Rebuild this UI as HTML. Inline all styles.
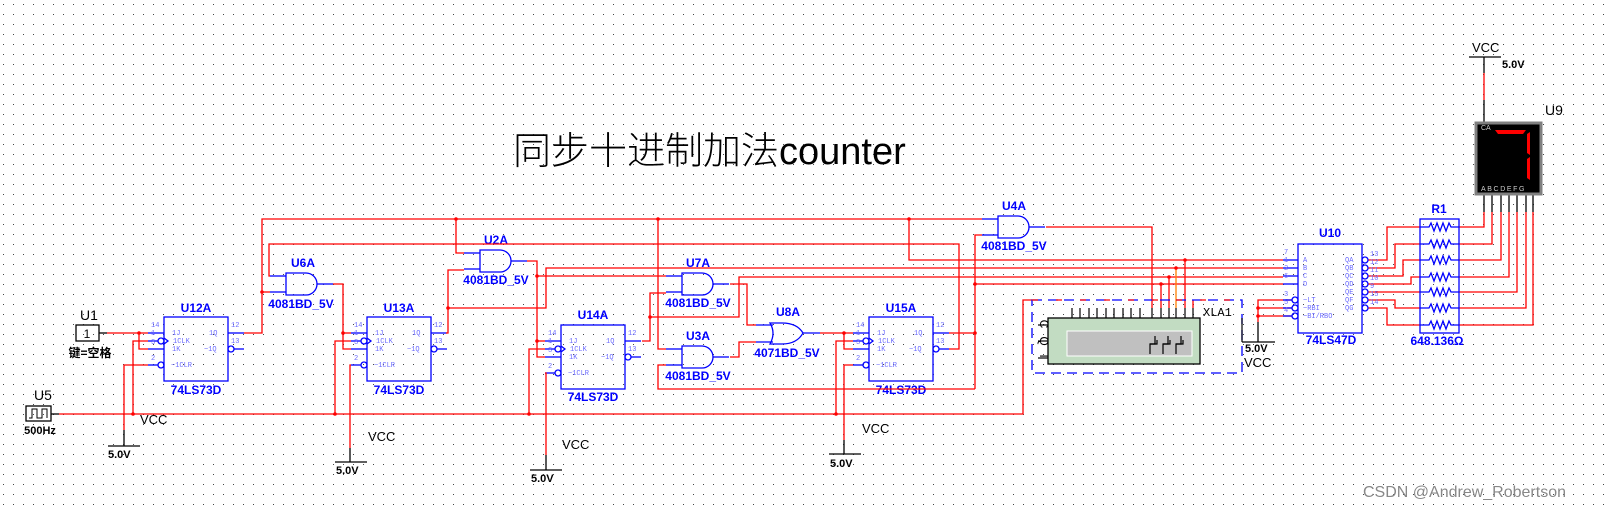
<!DOCTYPE html>
<html><head><meta charset="utf-8"><style>
html,body{margin:0;padding:0;background:#fff;}
svg{display:block;}
.w{stroke:#ff0000;stroke-width:1.3;fill:none;}
.b{stroke:#0000ff;stroke-width:1.3;fill:none;}
.k{stroke:#000;stroke-width:1.3;fill:none;}
.lb{font-family:"Liberation Sans",sans-serif;font-weight:bold;font-size:12px;fill:#0000ff;}
.pn{font-family:"Liberation Mono",monospace;font-size:7px;fill:#6a6aff;}
.tk{font-family:"Liberation Sans",sans-serif;font-size:13px;fill:#000;}
.tv{font-family:"Liberation Sans",sans-serif;font-weight:bold;font-size:11px;fill:#000;}
.j{fill:#ff0000;}
</style></head><body>
<svg width="1611" height="509" viewBox="0 0 1611 509" xmlns="http://www.w3.org/2000/svg">
<defs>
<pattern id="g" x="0" y="0" width="10" height="10" patternUnits="userSpaceOnUse"><rect x="3" y="4" width="1" height="1" fill="#444"/></pattern>
<g id="ff">
<rect x="0" y="0" width="64" height="64" class="b"/>
<line x1="-16" y1="16" x2="0" y2="16" class="b"/>
<line x1="-16" y1="24" x2="-6" y2="24" class="b"/><circle cx="-3" cy="24" r="3" class="b"/>
<polyline points="0,21 4,24 0,27" class="b"/>
<line x1="-16" y1="32" x2="0" y2="32" class="b"/>
<line x1="-16" y1="48" x2="-6" y2="48" class="b"/><circle cx="-3" cy="48" r="3" class="b"/>
<line x1="64" y1="16" x2="80" y2="16" class="b"/>
<circle cx="67" cy="32" r="3" class="b"/><line x1="70" y1="32" x2="80" y2="32" class="b"/>
<text class="pn" x="-13" y="10">14</text><text class="pn" x="-13" y="18">1</text><text class="pn" x="-13" y="27">3</text><text class="pn" x="-13" y="43">2</text>
<text class="pn" x="67" y="10">12</text><text class="pn" x="67" y="26">13</text>
<text class="pn" x="8" y="18">1J</text><text class="pn" x="9" y="26">1CLK</text><text class="pn" x="8" y="34">1K</text><text class="pn" x="7" y="50">~1CLR</text>
<text class="pn" x="45" y="18">1Q</text><text class="pn" x="40" y="34">~1Q</text>
</g>
<g id="and">
<path d="M0,0 H20 A11,11 0 0 1 20,22 H0 Z" class="b"/>
<line x1="-16" y1="3" x2="0" y2="3" class="b"/>
<line x1="-16" y1="19" x2="0" y2="19" class="b"/>
<line x1="31" y1="11" x2="47" y2="11" class="b"/>
</g>
<g id="zz"><polyline points="0,0 9,0 11,-4 14,4 17,-4 20,4 23,-4 26,4 29,-4 31,0 39,0" class="b"/></g>
</defs>
<rect width="1611" height="509" fill="url(#g)"/>

<!-- title -->
<text x="513" y="164" style="font-family:'Liberation Sans','Noto Sans CJK SC',sans-serif;font-size:38px;font-weight:300;fill:#000;">同步十进制加法counter</text>
<text x="1363" y="497" style="font-family:'Liberation Sans','Noto Sans CJK SC',sans-serif;font-size:16px;fill:#888;">CSDN @Andrew_Robertson</text>

<!-- flip flops -->
<use href="#ff" x="164" y="317"/>
<use href="#ff" x="367" y="317"/>
<use href="#ff" x="561" y="325"/>
<use href="#ff" x="869" y="317"/>
<text class="lb" x="196" y="312" text-anchor="middle">U12A</text><text class="lb" x="196" y="394" text-anchor="middle">74LS73D</text>
<text class="lb" x="399" y="312" text-anchor="middle">U13A</text><text class="lb" x="399" y="394" text-anchor="middle">74LS73D</text>
<text class="lb" x="593" y="319" text-anchor="middle">U14A</text><text class="lb" x="593" y="401" text-anchor="middle">74LS73D</text>
<text class="lb" x="901" y="312" text-anchor="middle">U15A</text><text class="lb" x="901" y="394" text-anchor="middle">74LS73D</text>

<!-- gates -->
<use href="#and" x="286" y="273"/>
<text class="lb" x="303" y="267" text-anchor="middle">U6A</text><text class="lb" x="301" y="308" text-anchor="middle">4081BD_5V</text>
<use href="#and" x="480" y="250"/>
<text class="lb" x="496" y="244" text-anchor="middle">U2A</text><text class="lb" x="496" y="284" text-anchor="middle">4081BD_5V</text>
<use href="#and" x="682" y="273"/>
<text class="lb" x="698" y="267" text-anchor="middle">U7A</text><text class="lb" x="698" y="307" text-anchor="middle">4081BD_5V</text>
<use href="#and" x="682" y="346"/>
<text class="lb" x="698" y="340" text-anchor="middle">U3A</text><text class="lb" x="698" y="380" text-anchor="middle">4081BD_5V</text>
<use href="#and" x="998" y="216"/>
<text class="lb" x="1014" y="210" text-anchor="middle">U4A</text><text class="lb" x="1014" y="250" text-anchor="middle">4081BD_5V</text>
<!-- OR -->
<path d="M770,323 H782 Q797,323 803,333 Q797,344 782,344 H770 Q776,333 770,323 Z" class="b"/>
<line x1="756" y1="325" x2="773" y2="325" class="b"/><line x1="756" y1="342" x2="773" y2="342" class="b"/>
<line x1="803" y1="333" x2="820" y2="333" class="b"/>
<text class="lb" x="788" y="316" text-anchor="middle">U8A</text><text class="lb" x="787" y="357" text-anchor="middle">4071BD_5V</text>

<!-- U1 -->
<rect x="76" y="325" width="23" height="16" class="k"/>
<text x="87" y="338" class="tk" text-anchor="middle" style="font-size:12px">1</text>
<text x="89" y="320" class="tk" text-anchor="middle" style="font-size:14px">U1</text>
<text x="90" y="357" style="font-family:'Liberation Sans','Noto Sans CJK SC',sans-serif;font-size:12px;font-weight:bold" text-anchor="middle">键=空格</text>
<line x1="99" y1="333" x2="107" y2="333" class="k"/>
<!-- U5 -->
<rect x="26" y="406" width="25" height="15" class="k"/>
<polyline points="29,418 32,418 32,409 37,409 37,418 42,418 42,409 47,409 47,418" class="k" style="stroke-width:1"/>
<text x="43" y="400" class="tk" text-anchor="middle" style="font-size:14px">U5</text>
<text x="40" y="434" class="tv" text-anchor="middle">500Hz</text>
<line x1="51" y1="414" x2="59" y2="414" class="k"/>

<!-- wires -->
<g class="w">
<polyline points="107,333 148,333"/><polyline points="139,333 139,349 148,349"/>
<polyline points="148,341 133,341 133,414"/>
<polyline points="148,365 124,365 124,430"/>
<polyline points="244,333 262,333 262,219 982,219"/>
<polyline points="262,292 270,292"/>
<polyline points="270,276 269,276 269,244 959,244 959,349 949,349"/>
<polyline points="333,284 343,284 343,349 351,349"/><polyline points="343,333 351,333"/>
<polyline points="351,341 335,341 335,414"/>
<polyline points="351,365 350,365 350,448"/>
<polyline points="446,333 448,333 448,270 464,270"/>
<polyline points="448,308 546,308 546,268 1283,268"/>
<polyline points="456,219 456,253 464,253"/>
<polyline points="527,261 537,261 537,357 545,357"/><polyline points="537,341 545,341"/>
<polyline points="537,276 666,276"/>
<polyline points="545,349 529,349 529,414"/>
<polyline points="545,373 546,373 546,455"/>
<polyline points="642,341 650,341 650,293 666,293"/>
<polyline points="650,317 739,317 739,277 1283,277"/>
<polyline points="658,219 658,349 666,349"/>
<polyline points="666,365 658,365 658,389 975,389"/>
<polyline points="730,284 747,284 747,325 756,325"/>
<polyline points="730,357 739,357 739,342 756,342"/>
<polyline points="820,333 853,333"/><polyline points="844,333 844,349 853,349"/>
<polyline points="853,341 836,341 836,414"/>
<polyline points="853,365 844,365 844,440"/>
<polyline points="949,333 975,333"/><polyline points="982,235 975,235 975,389"/>
<polyline points="975,284 1283,284"/>
<polyline points="909,219 909,260 1283,260"/>
<polyline points="59,414 1023,414 1023,300 1032,300"/>
<polyline points="1046,227 1152,227 1152,308"/>
<polyline points="1161,284 1161,308"/><polyline points="1169,277 1169,308"/><polyline points="1185,260 1185,308"/>
<polyline points="1193,300 1193,308"/>
<polyline points="1292,300 1258,300 1258,322"/><polyline points="1258,308 1292,308"/><polyline points="1258,316 1292,316"/>
<polyline points="1368,260 1387,260 1387,227 1420,227"/>
<polyline points="1368,268 1395,268 1395,244 1420,244"/>
<polyline points="1368,276 1403,276 1403,260 1420,260"/>
<polyline points="1368,284 1411,284 1411,277 1420,277"/>
<polyline points="1368,292 1420,292"/>
<polyline points="1368,300 1395,300 1395,308 1420,308"/>
<polyline points="1368,308 1387,308 1387,325 1420,325"/>
<polyline points="1459,227 1484,227 1484,212"/>
<polyline points="1459,244 1492,244 1492,212"/>
<polyline points="1459,260 1501,260 1501,212"/>
<polyline points="1459,277 1509,277 1509,212"/>
<polyline points="1459,292 1517,292 1517,212"/>
<polyline points="1459,308 1526,308 1526,212"/>
<polyline points="1459,325 1533,325 1533,212"/>
<polyline points="1484,73 1484,100"/>
</g>
<line x1="1176" y1="268" x2="1176" y2="308" style="stroke:#ff8000;stroke-width:1.3"/>
<g class="j">
<circle cx="139" cy="333" r="1.8"/><circle cx="133" cy="414" r="1.8"/><circle cx="262" cy="292" r="1.8"/>
<circle cx="343" cy="333" r="1.8"/><circle cx="335" cy="414" r="1.8"/><circle cx="448" cy="308" r="1.8"/>
<circle cx="456" cy="219" r="1.8"/><circle cx="537" cy="276" r="1.8"/><circle cx="537" cy="341" r="1.8"/>
<circle cx="529" cy="414" r="1.8"/><circle cx="650" cy="317" r="1.8"/><circle cx="658" cy="219" r="1.8"/>
<circle cx="844" cy="333" r="1.8"/><circle cx="836" cy="414" r="1.8"/><circle cx="975" cy="333" r="1.8"/>
<circle cx="975" cy="284" r="1.8"/><circle cx="909" cy="219" r="1.8"/><circle cx="1161" cy="284" r="1.8"/>
<circle cx="1169" cy="277" r="1.8"/><circle cx="1176" cy="268" r="1.8"/><circle cx="1185" cy="260" r="1.8"/>
<circle cx="1258" cy="308" r="1.8"/><circle cx="1258" cy="316" r="1.8"/>
</g>

<!-- grounds / VCC -->
<g class="k">
<line x1="124" y1="430" x2="124" y2="446"/><line x1="108" y1="446" x2="140" y2="446"/>
<line x1="350" y1="448" x2="350" y2="462"/><line x1="335" y1="462" x2="367" y2="462"/>
<line x1="546" y1="455" x2="546" y2="470"/><line x1="530" y1="470" x2="562" y2="470"/>
<line x1="844" y1="440" x2="844" y2="454"/><line x1="829" y1="454" x2="861" y2="454"/>
<line x1="1258" y1="322" x2="1258" y2="342"/><line x1="1242" y1="342" x2="1275" y2="342"/>
<line x1="1484" y1="57" x2="1484" y2="73"/><line x1="1469" y1="57" x2="1501" y2="57"/>
<line x1="1484" y1="100" x2="1484" y2="122"/>
<line x1="1484" y1="195" x2="1484" y2="212"/><line x1="1492" y1="195" x2="1492" y2="212"/><line x1="1501" y1="195" x2="1501" y2="212"/><line x1="1509" y1="195" x2="1509" y2="212"/><line x1="1517" y1="195" x2="1517" y2="212"/><line x1="1526" y1="195" x2="1526" y2="212"/><line x1="1533" y1="195" x2="1533" y2="212"/>
</g>
<text class="tk" x="140" y="424">VCC</text><text class="tv" x="108" y="458">5.0V</text>
<text class="tk" x="368" y="441">VCC</text><text class="tv" x="336" y="474">5.0V</text>
<text class="tk" x="562" y="449">VCC</text><text class="tv" x="531" y="482">5.0V</text>
<text class="tk" x="862" y="433">VCC</text><text class="tv" x="830" y="467">5.0V</text>
<text class="tv" x="1245" y="352">5.0V</text><text class="tk" x="1244" y="367">VCC</text>
<text class="tk" x="1472" y="52">VCC</text><text class="tv" x="1502" y="68">5.0V</text>

<!-- XLA1 -->
<rect x="1032" y="300" width="210" height="73" fill="none" stroke="#0000ff" stroke-width="1.3" stroke-dasharray="10,6"/>
<line x1="1032" y1="300" x2="1232" y2="300" stroke="#ff0000" stroke-width="1.3" stroke-dasharray="6,18"/>
<rect x="1048" y="318" width="152" height="46" fill="#c2dcc2" stroke="#000" stroke-width="1.3"/>
<rect x="1067" y="331" width="125" height="25" fill="#c0c0c0" stroke="#fff" stroke-width="1"/>
<g class="k" style="stroke-width:1.2">
<polyline points="1150,354 1150,344 1155,344 1155,336"/><polyline points="1150,344 1157,344 1157,340"/>
<polyline points="1163,354 1163,344 1168,344 1168,336"/><polyline points="1163,344 1170,344 1170,340"/>
<polyline points="1176,354 1176,344 1181,344 1181,336"/><polyline points="1176,344 1183,344 1183,340"/>
<line x1="1072" y1="308" x2="1072" y2="318"/><line x1="1080" y1="308" x2="1080" y2="318"/><line x1="1089" y1="308" x2="1089" y2="318"/><line x1="1097" y1="308" x2="1097" y2="318"/><line x1="1106" y1="308" x2="1106" y2="318"/><line x1="1114" y1="308" x2="1114" y2="318"/><line x1="1123" y1="308" x2="1123" y2="318"/><line x1="1131" y1="308" x2="1131" y2="318"/><line x1="1140" y1="308" x2="1140" y2="318"/><line x1="1152" y1="308" x2="1152" y2="318"/><line x1="1161" y1="308" x2="1161" y2="318"/><line x1="1169" y1="308" x2="1169" y2="318"/><line x1="1176" y1="308" x2="1176" y2="318"/><line x1="1185" y1="308" x2="1185" y2="318"/><line x1="1193" y1="308" x2="1193" y2="318"/>
<line x1="1038" y1="325" x2="1048" y2="325"/><line x1="1038" y1="341" x2="1048" y2="341"/><line x1="1038" y1="358" x2="1048" y2="358"/>
<line x1="1242" y1="318" x2="1242" y2="342"/>
</g>
<text class="tk" x="1043" y="324" transform="rotate(90 1043 324)" style="font-size:12px" text-anchor="middle" dominant-baseline="middle">C</text>
<text class="tk" x="1043" y="341" transform="rotate(90 1043 341)" style="font-size:12px" text-anchor="middle" dominant-baseline="middle">Q</text>
<text class="tk" x="1043" y="356" transform="rotate(90 1043 356)" style="font-size:12px" text-anchor="middle" dominant-baseline="middle">T</text>
<text x="1203" y="316" style="font-family:'Liberation Mono',monospace;font-size:12px;fill:#000">XLA1</text>

<!-- U10 -->
<rect x="1298" y="244" width="64" height="89" class="b"/>
<g class="b">
<line x1="1283" y1="260" x2="1298" y2="260"/><line x1="1283" y1="268" x2="1298" y2="268"/><line x1="1283" y1="276" x2="1298" y2="276"/><line x1="1283" y1="284" x2="1298" y2="284"/>
<line x1="1283" y1="300" x2="1292" y2="300"/><circle cx="1295" cy="300" r="3"/>
<line x1="1283" y1="308" x2="1292" y2="308"/><circle cx="1295" cy="308" r="3"/>
<line x1="1283" y1="316" x2="1292" y2="316"/><circle cx="1295" cy="316" r="3"/>
<circle cx="1365" cy="260" r="3"/><circle cx="1365" cy="268" r="3"/><circle cx="1365" cy="276" r="3"/><circle cx="1365" cy="284" r="3"/><circle cx="1365" cy="292" r="3"/><circle cx="1365" cy="300" r="3"/><circle cx="1365" cy="308" r="3"/>
</g>
<text class="pn" x="1303" y="262">A</text><text class="pn" x="1303" y="270">B</text><text class="pn" x="1303" y="278">C</text><text class="pn" x="1303" y="286">D</text>
<text class="pn" x="1303" y="302">~LT</text><text class="pn" x="1303" y="310">~RBI</text><text class="pn" x="1303" y="318">~BI/RBO</text>
<text class="pn" x="1345" y="262">QA</text><text class="pn" x="1345" y="270">QB</text><text class="pn" x="1345" y="278">QC</text><text class="pn" x="1345" y="286">QD</text><text class="pn" x="1345" y="294">QE</text><text class="pn" x="1345" y="302">QF</text><text class="pn" x="1345" y="310">QG</text>
<text class="pn" x="1284" y="254">7</text><text class="pn" x="1284" y="262">1</text><text class="pn" x="1284" y="270">2</text><text class="pn" x="1284" y="278">6</text><text class="pn" x="1284" y="296">3</text><text class="pn" x="1284" y="304">5</text><text class="pn" x="1284" y="312">4</text>
<text class="pn" x="1370" y="256">13</text><text class="pn" x="1370" y="264">12</text><text class="pn" x="1370" y="272">11</text><text class="pn" x="1370" y="280">10</text><text class="pn" x="1370" y="288">9</text><text class="pn" x="1370" y="296">15</text><text class="pn" x="1370" y="304">14</text>
<text class="lb" x="1330" y="237" text-anchor="middle">U10</text><text class="lb" x="1331" y="344" text-anchor="middle">74LS47D</text>

<!-- R1 -->
<rect x="1420" y="219" width="39" height="114" class="b"/>
<use href="#zz" x="1420" y="227"/><use href="#zz" x="1420" y="244"/><use href="#zz" x="1420" y="260"/><use href="#zz" x="1420" y="277"/><use href="#zz" x="1420" y="292"/><use href="#zz" x="1420" y="308"/><use href="#zz" x="1420" y="325"/>
<text class="lb" x="1439" y="213" text-anchor="middle">R1</text><text class="lb" x="1437" y="345" text-anchor="middle">648.136Ω</text>

<!-- display U9 -->
<rect x="1476" y="123" width="65" height="71" fill="#000" stroke="#808080" stroke-width="3"/>
<polygon points="1495,130 1526,130 1523,134 1498,134" fill="#ff0000"/>
<polygon points="1527,134 1530,132 1530,155 1527,153" fill="#ff0000"/>
<polygon points="1527,159 1530,157 1530,180 1527,178" fill="#ff0000"/>
<text x="1481" y="130" style="font-family:'Liberation Sans',sans-serif;font-size:7px;fill:#ccc">CA</text>
<text x="1481" y="191" style="font-family:'Liberation Sans',sans-serif;font-size:7px;fill:#ccc;letter-spacing:1.6px">ABCDEFG</text>
<text x="1545" y="115" class="tk" style="font-size:14px">U9</text>
</svg>
</body></html>
